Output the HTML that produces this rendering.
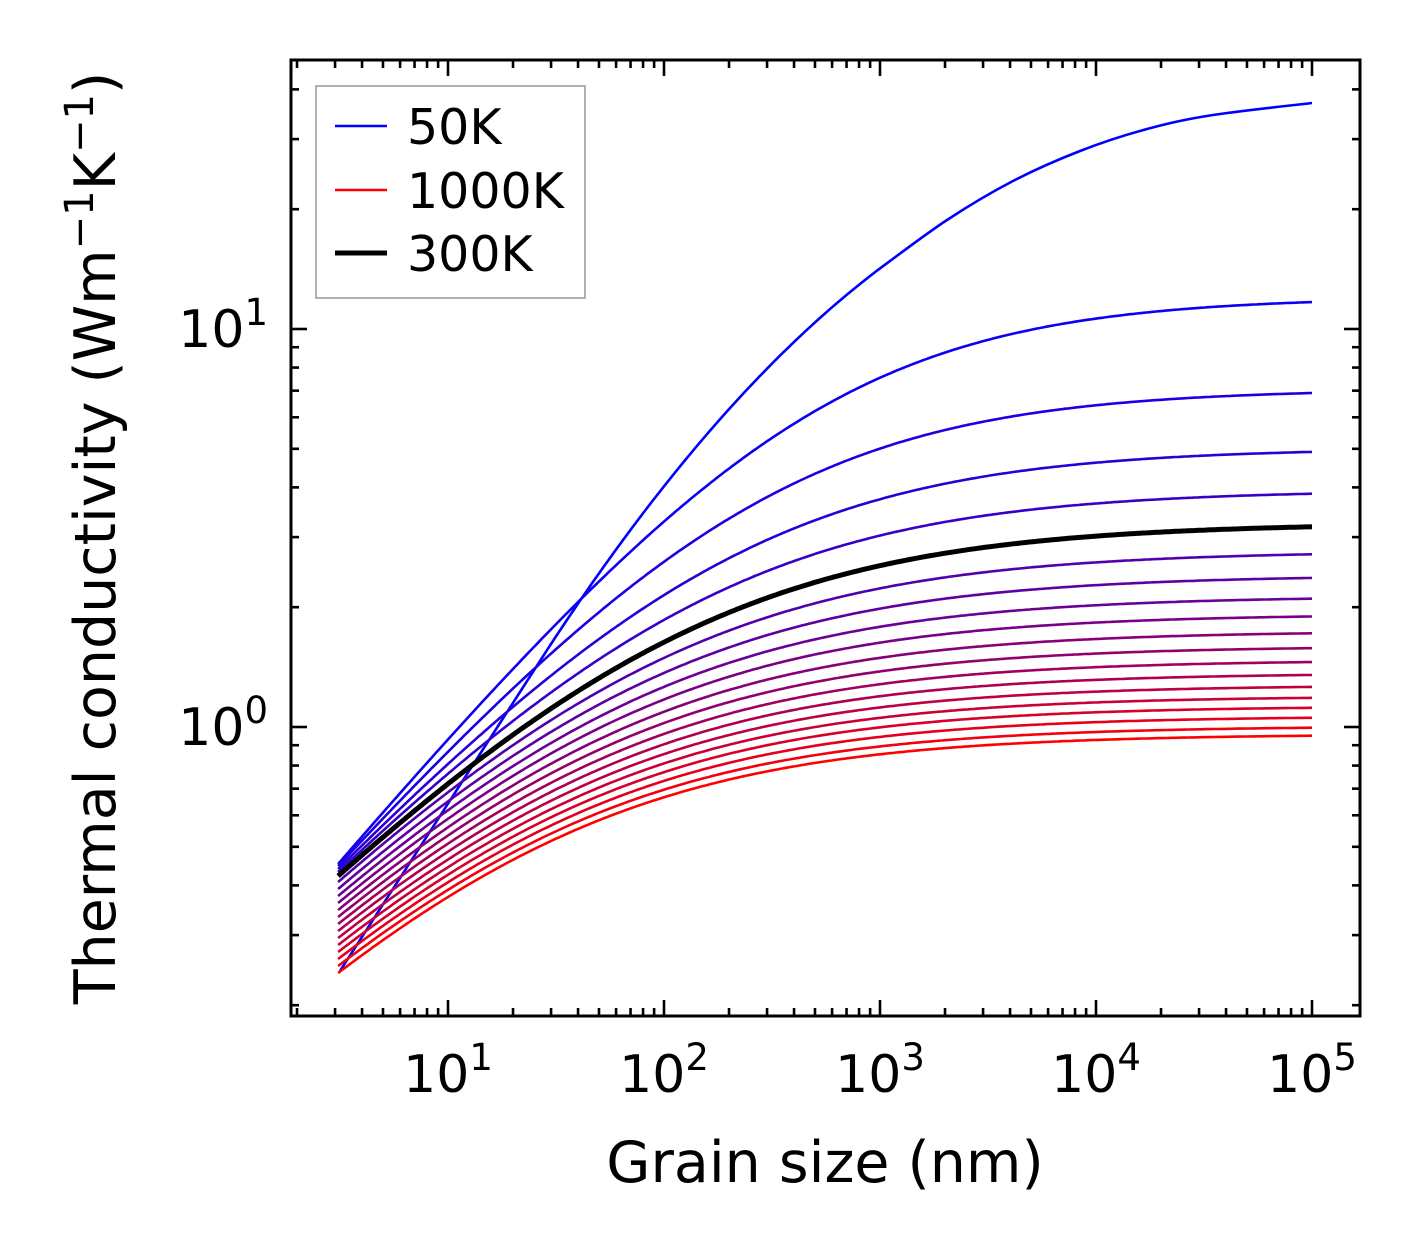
<!DOCTYPE html>
<html><head><meta charset="utf-8">
<style>html,body{margin:0;padding:0;background:#fff}svg{display:block}text{font-family:"DejaVu Sans","Liberation Sans",sans-serif;fill:#000}</style>
</head><body>
<svg id="s" width="1421" height="1254" xmlns="http://www.w3.org/2000/svg"></svg>
<script>
const s=document.getElementById('s');
const L=291,R=1360,T=60,B=1016;
const X=v=>448+216*(Math.log10(v)-1);
const Y=v=>727-398*Math.log10(v);
const Yinv=y=>Math.pow(10,(727-y)/398);
let h='';
const endY=[103,297,389,448,490,523,551,575,596,614,631,646,660,673,685,696,706,716,726,734];
const startY=[970,864,866,869,872,876,882,889,896,903,910,917,924,931,938,945,952,959,966,973];
const ps=[0.86,0.651,0.62,0.59,0.57,0.55];
function cr(pts){
  let d='M'+pts[0][0]+' '+pts[0][1];
  for(let i=0;i<pts.length-1;i++){
    const p0=pts[Math.max(0,i-1)],p1=pts[i],p2=pts[i+1],p3=pts[Math.min(pts.length-1,i+2)];
    const c1=[p1[0]+(p2[0]-p0[0])/6,p1[1]+(p2[1]-p0[1])/6];
    const c2=[p2[0]-(p3[0]-p1[0])/6,p2[1]-(p3[1]-p1[1])/6];
    d+=`C${c1[0].toFixed(1)} ${c1[1].toFixed(1)} ${c2[0].toFixed(1)} ${c2[1].toFixed(1)} ${p2[0]} ${p2[1]}`;
  }
  return d;
}
function path50(){
  // slope integration for left part
  let pts=[];let y=971;
  for(let x=340;x<=880;x+=4){
    pts.push([x,+y.toFixed(1)]);
    const sl = x<540?1.55:1.55-(0.80)*(x-540)/340;
    y-=sl*4;
  }
  const tail=[[947,220],[1013,181],[1080,151],[1147,129],[1213,115],[1312,103]];
  let d='M'+pts.map(p=>p[0]+' '+p[1]).join('L');
  const last=pts[pts.length-1];
  return d + cr([last,...tail]).replace(/^M[^C]*/,'');
}
function path(i){
  if(i==0) return path50();
  const kinf=Yinv(endY[i]),k0=Yinv(startY[i]);const p=i<6?ps[i]:0.55;
  const lam=3.1*Math.pow(kinf/k0-1,1/p);
  let d='';
  for(let j=0;j<=300;j++){const lg=Math.log10(3.1)+(5-Math.log10(3.1))*j/300;const Lv=Math.pow(10,lg);
    const k=kinf/(1+Math.pow(lam/Lv,p));d+=(j?'L':'M')+X(Lv).toFixed(1)+' '+Y(k).toFixed(1);}
  return d;
}
for(let i=0;i<20;i++){ if(i==5)continue;
  const f=i/19;const c=`rgb(${Math.round(255*f)},0,${Math.round(255*(1-f))})`;
  h+=`<path d="${path(i)}" fill="none" stroke="${c}" stroke-width="2.6" stroke-linejoin="round"/>`;}
h+=`<path d="${path(5)}" fill="none" stroke="#000" stroke-width="5"/>`;
h+=`<rect x="${L}" y="${T}" width="${R-L}" height="${B-T}" fill="none" stroke="#000" stroke-width="3"/>`;
for(let e=0;e<=5;e++)for(let m=1;m<10;m++){const v=m*Math.pow(10,e);const x=X(v);if(x<L+1||x>R-1)continue;
  const len=m==1?16:8;h+=`<line x1="${x}" y1="${B}" x2="${x}" y2="${B-len}" stroke="#000" stroke-width="2.6"/><line x1="${x}" y1="${T}" x2="${x}" y2="${T+len}" stroke="#000" stroke-width="2.6"/>`;}
for(let e=-1;e<=1;e++)for(let m=1;m<10;m++){const v=m*Math.pow(10,e);const y=Y(v);if(y<T+1||y>B-1)continue;
  const len=m==1?16:8;h+=`<line x1="${L}" y1="${y}" x2="${L+len}" y2="${y}" stroke="#000" stroke-width="2.6"/><line x1="${R}" y1="${y}" x2="${R-len}" y2="${y}" stroke="#000" stroke-width="2.6"/>`;}
for(let e=1;e<=5;e++){h+=`<text x="${X(Math.pow(10,e))}" y="1092" font-size="52" text-anchor="middle">10<tspan dy="-22" font-size="37">${e}</tspan></text>`;}
h+=`<text x="268" y="347" font-size="52" text-anchor="end">10<tspan dy="-22" font-size="37">1</tspan></text>`;
h+=`<text x="268" y="745" font-size="52" text-anchor="end">10<tspan dy="-22" font-size="37">0</tspan></text>`;
h+=`<text x="825" y="1182" font-size="57" text-anchor="middle">Grain size (nm)</text>`;
h+=`<text transform="translate(115,538) rotate(-90)" font-size="57" text-anchor="middle">Thermal conductivity (Wm<tspan dy="-22" font-size="40">−1</tspan><tspan dy="22">K</tspan><tspan dy="-22" font-size="40">−1</tspan><tspan dy="22">)</tspan></text>`;
h+=`<rect x="316" y="86" width="269" height="212" fill="#fff" stroke="#999" stroke-width="1.5"/>`;
const lg=[['50K','#0000ff',2.6,126],['1000K','#ff0000',2.6,190],['300K','#000',5,253]];
lg.forEach(a=>{h+=`<line x1="335" y1="${a[3]}" x2="387" y2="${a[3]}" stroke="${a[1]}" stroke-width="${a[2]}"/><text x="407" y="${a[3]+18}" font-size="49">${a[0]}</text>`;});
s.innerHTML=h;
</script>
</body></html>
